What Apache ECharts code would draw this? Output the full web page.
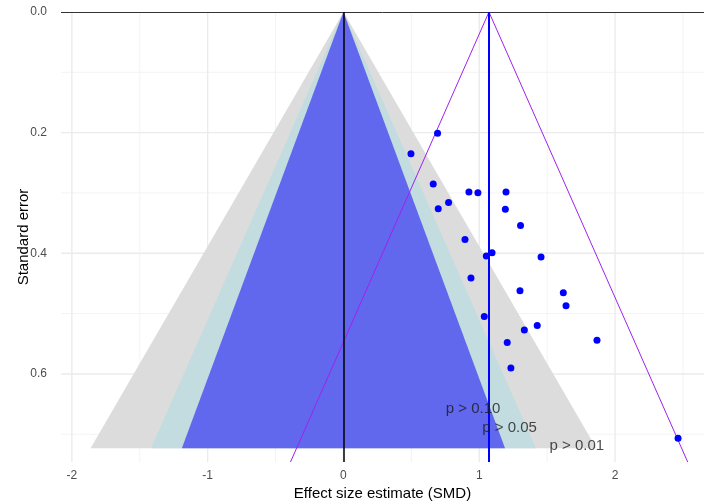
<!DOCTYPE html>
<html>
<head>
<meta charset="utf-8">
<script src="https://cdn.jsdelivr.net/npm/echarts@6/dist/echarts.min.js"></script>
<style>
  html, body { margin: 0; padding: 0; background: #fff; }
  #chart { width: 704px; height: 503px; }
</style>
</head>
<body>
<div id="chart"></div>
<script>
// study estimates (SMD) and their standard errors
var effects = [0.693, 0.497, 0.661, 0.924, 0.990, 1.197, 0.774, 0.698, 1.192, 1.304,
  0.895, 1.052, 1.094, 1.455, 0.939, 1.300, 1.619, 1.639, 1.037, 1.427,
  1.332, 1.206, 1.867, 1.233, 2.464];
var stdErrors = [0.201, 0.235, 0.285, 0.2985, 0.2996, 0.2985, 0.316, 0.326, 0.327, 0.354,
  0.377, 0.4047, 0.399, 0.406, 0.441, 0.462, 0.4655, 0.487, 0.5047, 0.5196,
  0.527, 0.548, 0.544, 0.590, 0.7065];

// contour funnels centred on 0 (widest first)
var funnelNames = ["p > 0.01", "p > 0.05", "p > 0.10"];
var funnelHalfWidth = [1.862, 1.417, 1.19];
var funnelColors = ["#dcdcdc", "#c3dce0", "#6168ee"];
var funnelSeMax = 0.723;
var labelX = [1.718, 1.223, 0.955];
var labelSe = [0.719, 0.689, 0.658];

// pooled estimate and its 95% funnel lines
var pooled = 1.0715;
var pooledLineEnds = [-0.39, 2.535];

var xTicks = [-2, -1, 0, 1, 2];
var xMinor = [-1.5, -0.5, 0.5, 1.5, 2.5];
var yTicks = [0, 0.2, 0.4, 0.6];
var yMinor = [0.1, 0.3, 0.5, 0.7];

var xMin = -2.08, xMax = 2.655, yMax = 0.746;
var font = "Liberation Sans, Arial, sans-serif";

// [value, isX, isMajor]
var gridData = [];
xMinor.forEach(function (v) { gridData.push([v, 1, 0]); });
yMinor.forEach(function (v) { gridData.push([v, 0, 0]); });
xTicks.forEach(function (v) { gridData.push([v, 1, 1]); });
yTicks.forEach(function (v) { if (v > 0) gridData.push([v, 0, 1]); });

var funnelData = funnelHalfWidth.map(function (w, i) { return [w, funnelSeMax, i]; });

var myChart = echarts.init(document.getElementById("chart"));
var option = {
  animation: false,
  backgroundColor: "#fff",
  grid: { left: 61, right: 0, top: 12, bottom: 41, containLabel: false, outerBoundsMode: "none" },
  xAxis: {
    type: "value",
    min: xMin,
    max: xMax,
    name: "Effect size estimate (SMD)",
    nameLocation: "middle",
    nameMoveOverlap: false,
    nameGap: 24,
    nameTextStyle: { fontFamily: font, fontSize: 15, color: "#000" },
    axisLine: { show: false },
    axisTick: { show: false },
    splitLine: { show: false },
    axisLabel: {
      customValues: xTicks,
      fontFamily: font,
      fontSize: 12,
      color: "#4d4d4d",
      margin: 8,
    },
  },
  yAxis: {
    type: "value",
    inverse: true,
    min: 0,
    max: yMax,
    name: "Standard error",
    nameLocation: "middle",
    nameMoveOverlap: false,
    nameRotate: 90,
    nameGap: 30,
    nameTextStyle: { fontFamily: font, fontSize: 15, color: "#000" },
    axisLine: { show: false },
    axisTick: { show: false },
    splitLine: { show: false },
    axisLabel: {
      customValues: yTicks,
      formatter: function (v) { return v.toFixed(1); },
      fontFamily: font,
      fontSize: 12,
      color: "#4d4d4d",
      margin: 14,
    },
  },
  series: [
    {
      // background grid
      type: "custom",
      z: 1,
      silent: true,
      renderItem: function (params, api) {
        var v = api.value(0), isX = api.value(1), major = api.value(2);
        var a, b;
        if (isX) {
          a = api.coord([v, 0]);
          b = api.coord([v, yMax]);
        } else {
          a = api.coord([xMin, v]);
          b = api.coord([xMax, v]);
        }
        return {
          type: "line",
          shape: { x1: a[0], y1: a[1], x2: b[0], y2: b[1] },
          style: { stroke: major ? "#ebebeb" : "#f3f3f3", lineWidth: major ? 1.4 : 1 },
        };
      },
      data: gridData,
    },
    {
      type: "custom",
      z: 2,
      silent: true,
      renderItem: function (params, api) {
        var w = api.value(0), se = api.value(1), i = api.value(2);
        var pts = [api.coord([0, 0]), api.coord([-w, se]), api.coord([w, se])];
        return {
          type: "polygon",
          shape: { points: pts },
          style: { fill: funnelColors[i] },
        };
      },
      data: funnelData,
    },
    {
      // reference lines
      type: "line",
      data: [],
      z: 4,
      markLine: {
        silent: true,
        symbol: "none",
        label: { show: false },
        data: [
          { yAxis: 0, lineStyle: { color: "#333", width: 1, type: "solid" } },
          { xAxis: 0, lineStyle: { color: "#000", width: 1.5, type: "solid" } },
          { xAxis: pooled, lineStyle: { color: "#0000ff", width: 2, type: "solid" } },
        ],
      },
    },
    {
      type: "line",
      z: 4,
      symbol: "none",
      lineStyle: { color: "#a020f0", width: 1 },
      data: [[pooledLineEnds[0], yMax], [pooled, 0], [pooledLineEnds[1], yMax]],
    },
    {
      type: "scatter",
      z: 5,
      symbolSize: 7,
      itemStyle: { color: "#0000ff", opacity: 1 },
      data: effects.map(function (e, i) { return [e, stdErrors[i]]; }),
    },
    {
      type: "scatter",
      z: 6,
      symbolSize: 0,
      label: {
        show: true,
        position: "inside",
        formatter: function (p) { return p.name; },
        fontFamily: font,
        fontSize: 15,
        color: "#1a1a1a",
      },
      data: funnelNames.map(function (n, i) { return { name: n, value: [labelX[i], labelSe[i]] }; }),
    },
  ],
};
myChart.setOption(option);
</script>
</body>
</html>
